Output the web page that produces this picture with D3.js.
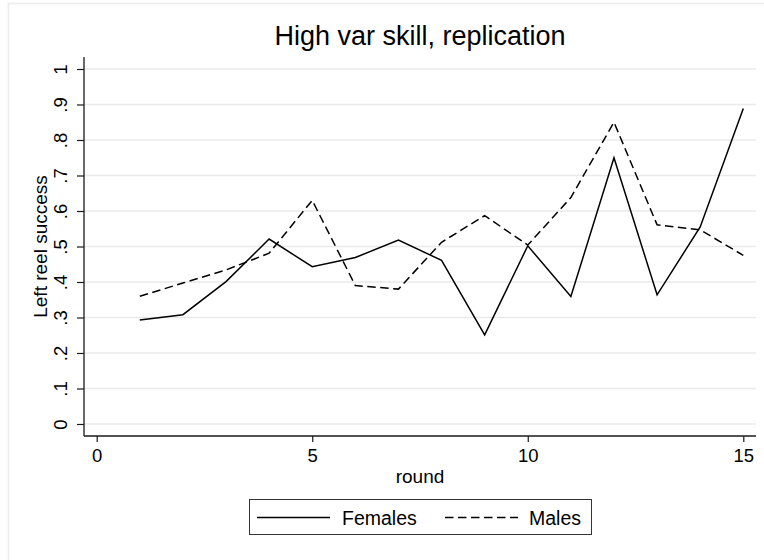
<!DOCTYPE html>
<html>
<head>
<meta charset="utf-8">
<script src="https://cdn.jsdelivr.net/npm/d3@7/dist/d3.min.js"></script>
<style>
  html, body { margin: 0; padding: 0; background: #ffffff; }
  svg { display: block; font-family: "Liberation Sans", Arial, Helvetica, sans-serif; }
</style>
</head>
<body>
<svg id="chart" width="764" height="560"></svg>
<script>
// ---- data ----
const rounds  = [1, 2, 3, 4, 5, 6, 7, 8, 9, 10, 11, 12, 13, 14, 15];
const females = [0.293, 0.308, 0.401, 0.521, 0.443, 0.469, 0.518, 0.461, 0.251, 0.502, 0.359, 0.750, 0.364, 0.555, 0.889];
const males   = [0.360, 0.397, 0.434, 0.481, 0.630, 0.390, 0.380, 0.512, 0.587, 0.504, 0.638, 0.850, 0.561, 0.547, 0.475];
const seriesNames = ["Females", "Males"];
const xTicks = [0, 5, 10, 15];
const yTicks = [0, 0.1, 0.2, 0.3, 0.4, 0.5, 0.6, 0.7, 0.8, 0.9, 1];
const yTickLabels = ["0", ".1", ".2", ".3", ".4", ".5", ".6", ".7", ".8", ".9", "1"];
const titleText = "High var skill, replication";
const xTitle = "round";
const yTitle = "Left reel success";

// ---- layout ----
const svg = d3.select("#chart");
const plot = { left: 84, right: 756, top: 57, bottom: 436 };
const x = d3.scaleLinear().domain([0, 15]).range([96.7, 743.3]);
const y = d3.scaleLinear().domain([0, 1]).range([424, 69]);
const dash = "8.5,4.5";

// outer light frame
svg.append("rect")
  .attr("x", 8.5).attr("y", 3.5).attr("width", 900).attr("height", 700)
  .attr("fill", "none").attr("stroke", "#ececec").attr("stroke-width", 1.6);

// gridlines
svg.append("g").selectAll("line").data(yTicks).join("line")
  .attr("x1", plot.left).attr("x2", plot.right)
  .attr("y1", d => y(d)).attr("y2", d => y(d))
  .attr("stroke", "#eaeaea").attr("stroke-width", 1.4);

// axes lines
svg.append("line").attr("x1", plot.left).attr("x2", plot.left)
  .attr("y1", plot.top).attr("y2", plot.bottom)
  .attr("stroke", "#1a1a1a").attr("stroke-width", 1.3);
svg.append("line").attr("x1", plot.left).attr("x2", plot.right)
  .attr("y1", plot.bottom).attr("y2", plot.bottom)
  .attr("stroke", "#1a1a1a").attr("stroke-width", 1.3);

// y axis
const yAxis = svg.append("g").attr("transform", `translate(${plot.left},0)`)
  .call(d3.axisLeft(y).tickValues(yTicks).tickSize(7)
    .tickFormat((d, i) => yTickLabels[i]));
yAxis.select(".domain").remove();
yAxis.selectAll(".tick line").attr("stroke", "#1a1a1a").attr("stroke-width", 1.2);
yAxis.selectAll(".tick text")
  .attr("transform", "rotate(-90)")
  .attr("x", 0).attr("y", -17).attr("dy", 0)
  .attr("text-anchor", "middle")
  .attr("fill", "#000").style("font-size", "18.5px")
  .style("font-family", "'Liberation Sans', Arial, sans-serif");

// x axis
const xAxis = svg.append("g").attr("transform", `translate(0,${plot.bottom})`)
  .call(d3.axisBottom(x).tickValues(xTicks).tickSize(6).tickFormat(d3.format("d")));
xAxis.select(".domain").remove();
xAxis.selectAll(".tick line").attr("stroke", "#1a1a1a").attr("stroke-width", 1.2);
xAxis.selectAll(".tick text")
  .attr("y", 26).attr("dy", 0)
  .attr("fill", "#000").style("font-size", "18.5px")
  .style("font-family", "'Liberation Sans', Arial, sans-serif");

// titles
svg.append("text").attr("x", 420).attr("y", 45).attr("text-anchor", "middle")
  .style("font-size", "27px").attr("fill", "#000").text(titleText);
svg.append("text").attr("x", 420).attr("y", 483).attr("text-anchor", "middle")
  .style("font-size", "19px").attr("fill", "#000").text(xTitle);
svg.append("text").attr("transform", `translate(47,246.5) rotate(-90)`)
  .attr("text-anchor", "middle")
  .style("font-size", "19px").attr("fill", "#000").text(yTitle);

// lines
const line = d3.line().x((d, i) => x(rounds[i])).y(d => y(d));
svg.append("path").datum(females).attr("d", line)
  .attr("fill", "none").attr("stroke", "#000").attr("stroke-width", 1.5);
svg.append("path").datum(males).attr("d", line)
  .attr("fill", "none").attr("stroke", "#000").attr("stroke-width", 1.5)
  .attr("stroke-dasharray", dash);

// legend
const lg = svg.append("g");
lg.append("rect").attr("x", 249.5).attr("y", 499.5).attr("width", 342).attr("height", 35)
  .attr("fill", "#fff").attr("stroke", "#333").attr("stroke-width", 1);
const legendItems = [
  { name: seriesNames[0], x1: 257, x2: 330, tx: 342, dash: null },
  { name: seriesNames[1], x1: 445, x2: 518, tx: 529, dash: dash }
];
legendItems.forEach(it => {
  lg.append("line").attr("x1", it.x1).attr("x2", it.x2).attr("y1", 517.5).attr("y2", 517.5)
    .attr("stroke", "#000").attr("stroke-width", 1.5)
    .attr("stroke-dasharray", it.dash);
  lg.append("text").attr("x", it.tx).attr("y", 524.5)
    .style("font-size", "19.5px").attr("fill", "#000").text(it.name);
});
</script>
</body>
</html>
